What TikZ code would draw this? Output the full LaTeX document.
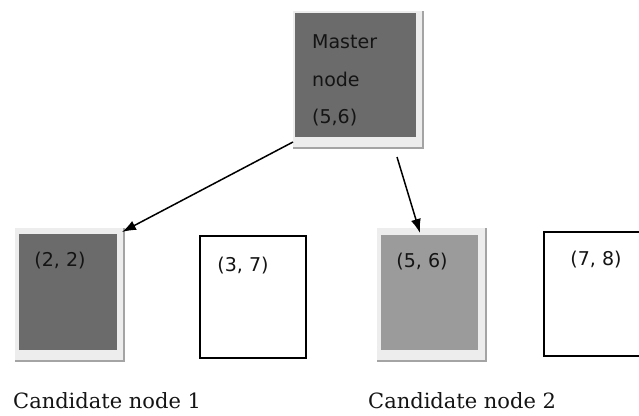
\documentclass[tikz,border=0pt]{standalone}
\usepackage{fontspec}
\setmainfont{DejaVu Serif}
\newfontfamily\boxfont{DejaVu Sans}
\usetikzlibrary{arrows.meta}
\definecolor{framelight}{HTML}{EDEDED}
\definecolor{frameedge}{HTML}{A4A4A4}
\definecolor{darkbox}{HTML}{6B6B6B}
\definecolor{lightbox}{HTML}{9B9B9B}
\definecolor{ink}{HTML}{141414}
\tikzset{
  framebox/.style={fill=framelight, draw=none, inner sep=0pt, outer sep=0pt, anchor=north west},
  fillbox/.style={draw=none, inner sep=0pt, outer sep=0pt, anchor=north west},
  plainbox/.style={draw=black, line width=1.8pt, fill=white, inner sep=0pt, outer sep=0pt, anchor=north west},
  frameline/.style={draw=frameedge, line width=2pt},
  boxtext/.style={inner sep=0pt, text=ink, font=\boxfont\fontsize{19}{22}\selectfont},
  captext/.style={inner sep=0pt, text=ink, font=\fontsize{21}{25}\selectfont, anchor=base west},
  arr/.style={draw=black, line width=1.5pt, -{Latex[length=14pt,width=10pt]}}
}
\begin{document}
\begin{tikzpicture}[x=1pt,y=-1pt]
\useasboundingbox (0,0) rectangle (639,415);
\clip (0,0) rectangle (639,415);
\fill[white] (0,0) rectangle (639,415);

% master node
\node[framebox, minimum width=130pt, minimum height=137pt] (mframe) at (293,11) {};
\draw[frameline] (mframe.north east) -- (mframe.south east) -- (mframe.south west);
\node[fillbox, fill=darkbox, minimum width=121pt, minimum height=124pt] (master) at (295,13) {};
\node[boxtext, anchor=north west, align=left, font=\boxfont\fontsize{19}{37.5}\selectfont] (mtext) at (312,34.5) {Master\\node\\(5,6)};

% candidate (2,2)
\node[framebox, minimum width=109pt, minimum height=133pt] (c1frame) at (15,228) {};
\draw[frameline] (c1frame.north east) -- (c1frame.south east) -- (c1frame.south west);
\node[fillbox, fill=darkbox, minimum width=98pt, minimum height=116pt] (c1) at (19,234) {};
\node[boxtext] (t1) at (60,261) {(2, 2)};

% (3,7)
\node[plainbox, minimum width=106pt, minimum height=122pt] (b2) at (200,236) {};
\node[boxtext] (t2) at (243,266) {(3, 7)};

% candidate (5,6)
\node[framebox, minimum width=109pt, minimum height=133pt] (c2frame) at (377,228) {};
\draw[frameline] (c2frame.north east) -- (c2frame.south east) -- (c2frame.south west);
\node[fillbox, fill=lightbox, minimum width=97pt, minimum height=115pt] (c2) at (381,235) {};
\node[boxtext] (t3) at (422,262) {(5, 6)};

% (7,8)
\node[plainbox, minimum width=104pt, minimum height=124pt] (b4) at (544,232) {};
\node[boxtext] (t4) at (596,260) {(7, 8)};

% arrows
\draw[arr] ([yshift=6pt]mframe.south west) -- ([shift={(-2pt,-4pt)}]c1frame.north east);
\draw[arr] ([shift={(39pt,-9pt)}]mframe.south) -- ([shift={(-9.5pt,2pt)}]c2.north);

% captions
\node[captext] (lab1) at (13,408) {Candidate node 1};
\node[captext] (lab2) at (368,408) {Candidate node 2};
\end{tikzpicture}
\end{document}
